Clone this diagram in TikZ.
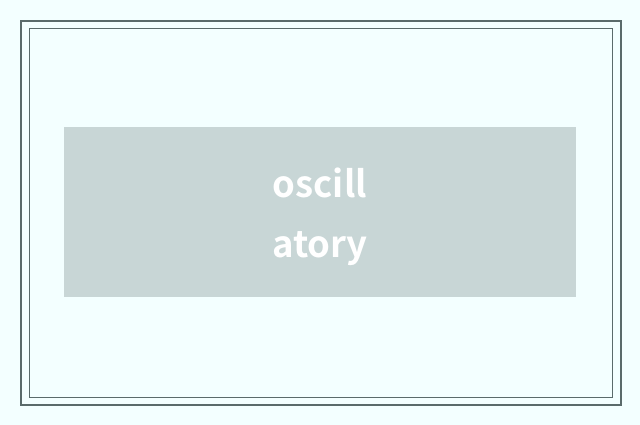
\documentclass[tikz,border=0pt]{standalone}
\usepackage{fontspec}
\newfontfamily\boxfont{Noto Sans CJK SC}[BoldFont={* Bold}]
\definecolor{bgc}{HTML}{F3FFFF}
\definecolor{framec}{HTML}{5A6B6B}
\definecolor{boxc}{HTML}{C8D6D6}
\tikzset{
  frameline/.style={draw=framec},
  labelbox/.style={fill=boxc, draw=none},
  labeltext/.style={text=white, align=center, font=\boxfont\bfseries\fontsize{36.5}{60}\selectfont}
}
\begin{document}
\begin{tikzpicture}[x=1pt,y=-1pt]
\fill[bgc] (0,0) rectangle (640,425);
\useasboundingbox (0,0) rectangle (640,425);
\draw[frameline, line width=2pt] (21,21) rectangle (621,405);
\draw[frameline, line width=1pt] (29,29) rectangle (612,397);
\node[labelbox, minimum width=512pt, minimum height=170pt, inner sep=0pt] (box) at (320,212) {};
\node[labeltext, anchor=center] (lbl) at ([yshift=-5pt]box.center) {oscill\\atory};
\end{tikzpicture}
\end{document}
